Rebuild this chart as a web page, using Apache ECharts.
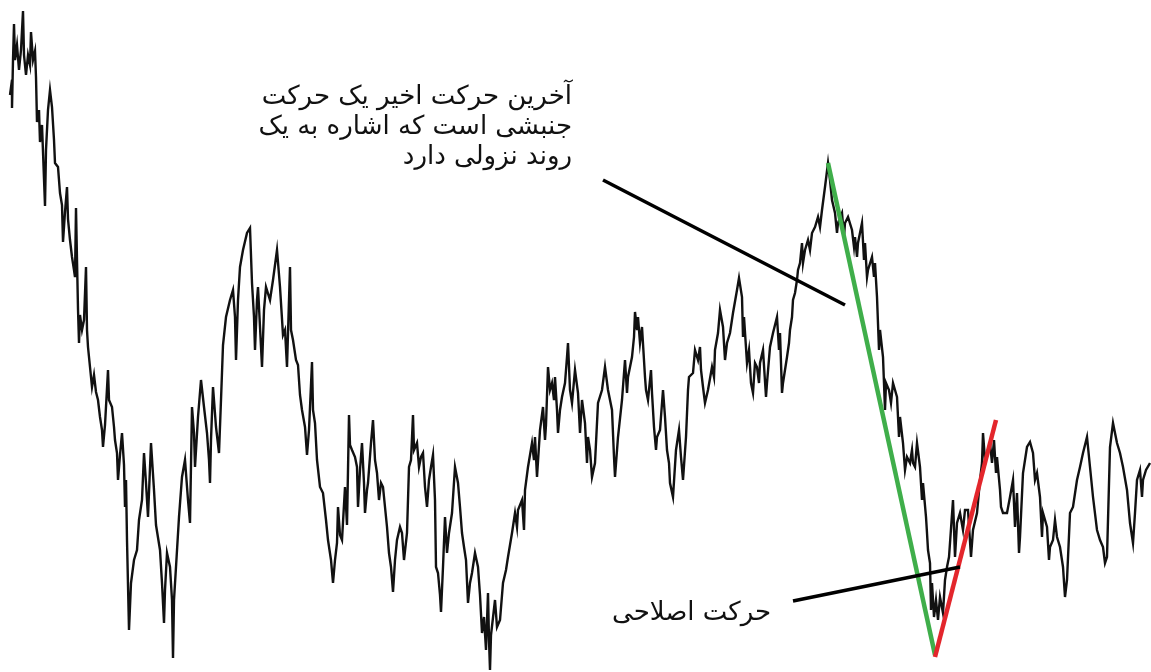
<!DOCTYPE html>
<html>
<head>
<meta charset="utf-8">
<script src="https://cdn.jsdelivr.net/npm/echarts@6/dist/echarts.min.js"></script>
<style>
html,body{margin:0;padding:0;background:#fff;}
#chart{width:1151px;height:672px;}
</style>
</head>
<body>
<div id="chart"></div>
<script>
// Price trace: time step and price level (level axis grows downward).
const timeSteps = [10,12,12,13,14,15,17,19,21,23,24,26,28,30,31,33,35,36,37,39,40,42,45,46,48,50,52,54,55,58,60,62,63,65,67,68,70,72,74,75,76,77,78,79,80,82,84,86,87,88,90,92,94,96,98,100,102,103,105,108,109,112,114,115,117,118,120,122,124,125,126,127,129,131,134,137,139,142,144,146,148,151,154,156,160,162,164,165,167,170,172,173,174,176,179,182,185,188,190,192,194,195,198,201,204,207,209,210,211,213,216,219,221,223,226,230,233,235,236,238,240,243,247,250,252,254,255,257,258,260,262,264,266,270,273,277,280,283,285,287,289,290,291,293,296,298,300,302,305,307,309,312,313,315,317,320,323,326,328,331,333,335,337,338,340,342,345,347,349,350,352,355,357,358,360,362,364,365,367,368,371,373,375,377,379,381,383,385,387,389,391,393,395,397,400,402,404,407,409,411,413,414,417,419,421,423,425,427,429,431,433,435,436,438,440,441,443,445,447,449,452,455,458,460,462,464,466,468,470,472,475,478,480,482,484,486,488,489,490,491,493,495,497,500,503,506,508,512,515,517,518,522,524,525,528,532,534,535,537,540,543,545,546,548,550,552,554,555,557,558,560,562,565,567,568,570,572,575,578,580,582,585,587,588,590,592,595,598,602,605,608,612,614,615,618,622,625,627,628,632,634,635,637,638,640,642,645,646,648,651,652,654,656,657,660,663,665,667,669,670,673,676,679,681,683,686,688,689,693,695,698,700,701,703,705,708,712,714,715,718,720,723,725,727,730,733,737,739,742,743,744,747,749,751,753,755,757,759,760,763,766,767,770,773,777,779,780,782,783,785,787,789,790,792,793,795,797,798,800,802,803,805,808,810,812,815,818,820,822,825,828,830,832,835,837,838,842,844,845,848,852,854,855,857,858,862,864,865,867,868,872,874,875,877,879,880,883,885,886,889,891,893,897,899,900,903,905,907,910,912,913,915,917,920,922,923,926,927,928,930,931,932,934,936,938,940,943,945,947,949,950,953,955,957,960,963,965,968,971,973,977,980,982,983,985,987,990,992,994,996,997,1000,1001,1003,1007,1010,1013,1015,1017,1019,1020,1023,1027,1030,1033,1035,1037,1040,1042,1043,1047,1049,1050,1053,1055,1057,1060,1063,1065,1067,1070,1073,1077,1080,1083,1087,1090,1093,1097,1100,1103,1105,1107,1110,1113,1117,1120,1123,1127,1130,1133,1135,1137,1140,1142,1143,1146,1150];
const prices = [95,80,108,60,24,60,45,70,50,11,55,75,55,65,32,60,51,77,122,110,142,125,206,150,110,90,107,140,163,167,193,205,242,212,187,219,240,257,270,277,208,260,309,343,315,330,320,267,330,347,367,387,375,392,400,417,430,447,425,370,400,407,427,440,453,480,455,433,465,507,480,540,630,583,560,550,520,500,453,483,517,443,490,525,550,583,623,590,553,567,600,658,600,567,517,477,460,500,523,407,433,467,417,380,407,433,460,483,440,387,427,453,400,345,317,300,290,317,360,300,267,250,233,228,283,317,350,300,287,327,367,310,287,300,280,250,287,335,330,367,300,267,330,340,360,365,395,410,427,455,430,362,410,423,460,487,493,520,540,560,583,560,543,507,535,540,487,525,415,445,450,457,467,507,470,443,483,513,490,483,443,420,460,473,500,483,487,507,527,553,567,592,560,540,527,533,560,533,467,460,415,450,443,467,457,453,487,507,480,467,455,500,567,573,595,612,567,517,553,533,513,467,483,507,533,547,560,603,583,573,553,567,595,633,617,650,593,640,670,635,633,600,627,620,583,570,557,533,513,527,510,500,530,490,467,443,460,437,477,430,407,440,425,367,390,383,400,377,410,433,410,397,383,357,343,390,403,370,393,433,400,423,463,437,450,477,463,403,390,367,390,410,457,477,437,400,360,393,377,357,337,312,330,317,343,327,377,390,400,370,393,427,450,437,430,390,417,450,463,483,497,450,430,457,480,437,390,377,373,350,360,347,370,387,403,390,367,377,350,333,310,327,360,343,333,313,290,278,297,337,317,363,350,383,393,363,367,383,363,350,397,383,347,333,317,350,333,393,383,370,357,343,330,317,300,293,280,270,263,243,263,250,240,250,233,227,217,227,210,187,163,180,200,213,233,223,213,237,223,217,230,247,237,257,243,223,260,243,277,270,257,277,263,297,350,330,357,410,383,390,403,383,397,437,417,443,470,457,463,450,463,467,443,467,500,483,517,533,550,563,610,583,617,600,620,597,613,580,567,557,543,500,557,523,513,530,510,510,557,530,513,480,463,433,460,453,443,463,440,473,457,490,507,513,513,497,480,527,493,553,537,473,447,442,453,480,473,497,537,513,527,560,547,540,520,537,547,567,597,580,513,507,480,467,453,437,467,497,530,540,547,563,557,447,423,443,453,467,490,523,543,513,480,470,497,480,470,463];

// Annotation legs and pointer lines: [time, level] end points.
const impulseLeg = [[828,163],[935,655]];
const correctionLeg = [[935,657],[996,420]];
const pointerTop = [[603,180],[845,305]];
const pointerBottom = [[793,601],[960,567]];

const labelTop = 'آخرین حرکت اخیر یک حرکت\nجنبشی است که اشاره به یک\nروند نزولی دارد';
const labelBottom = 'حرکت اصلاحی';

const priceData = timeSteps.map((t, i) => [t, prices[i]]);

const chart = echarts.init(document.getElementById('chart'), null, {renderer: 'canvas'});
chart.setOption({
  animation: false,
  backgroundColor: '#ffffff',
  grid: {left: 0, right: 0, top: 0, bottom: 0},
  xAxis: {type: 'value', min: 0, max: 1151, show: false},
  yAxis: {type: 'value', min: 0, max: 672, inverse: true, show: false},
  series: [
    {type: 'line', data: priceData, showSymbol: false, symbol: 'none',
     lineStyle: {color: '#111', width: 2.4, join: 'miter'}, z: 2},
    {type: 'line', data: impulseLeg, showSymbol: false, symbol: 'none',
     lineStyle: {color: '#3fae4a', width: 4.5}, z: 3},
    {type: 'line', data: correctionLeg, showSymbol: false, symbol: 'none',
     lineStyle: {color: '#e3262c', width: 4.5}, z: 4},
    {type: 'line', data: pointerTop, showSymbol: false, symbol: 'none',
     lineStyle: {color: '#000', width: 3.5}, z: 5},
    {type: 'line', data: pointerBottom, showSymbol: false, symbol: 'none',
     lineStyle: {color: '#000', width: 3.5}, z: 5}
  ],
  graphic: [
    {type: 'text', x: 572, y: 82,
     style: {text: labelTop, font: '26px "DejaVu Sans"', fill: '#111', align: 'right', verticalAlign: 'top', lineHeight: 30}},
    {type: 'text', x: 612, y: 600,
     style: {text: labelBottom, font: '26px "DejaVu Sans"', fill: '#111', align: 'left', verticalAlign: 'top'}}
  ]
});
</script>
</body>
</html>
